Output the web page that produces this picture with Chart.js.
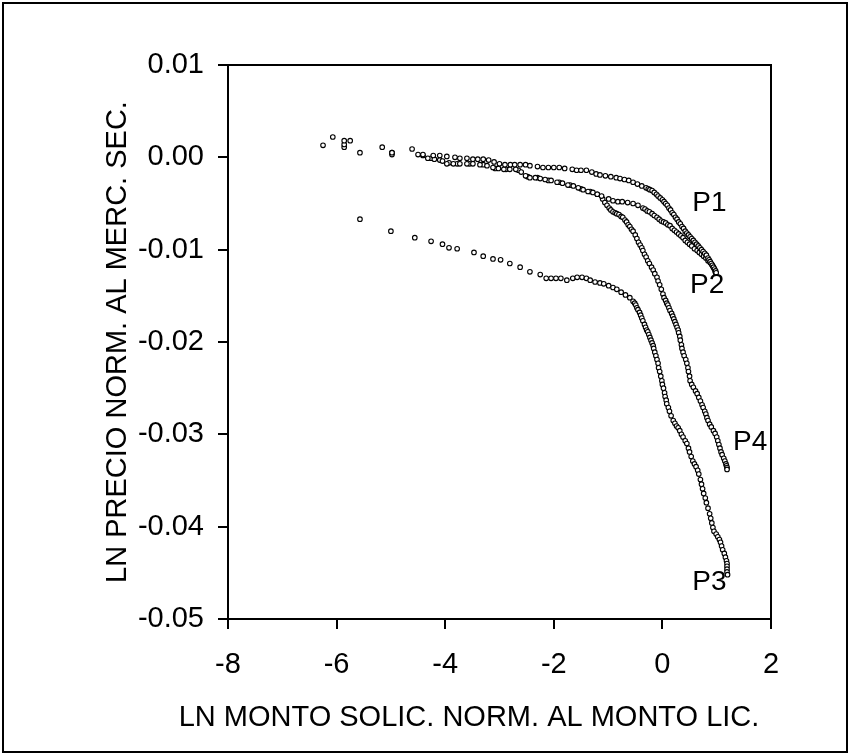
<!DOCTYPE html>
<html>
<head>
<meta charset="utf-8">
<script src="https://cdn.jsdelivr.net/npm/chart.js@4.4.1/dist/chart.umd.min.js"></script>
<style>
  html, body { margin: 0; padding: 0; background: #fff; }
  #wrap { position: relative; width: 850px; height: 755px; }
</style>
</head>
<body>
<div id="wrap"><canvas id="grafico" width="850" height="755"></canvas></div>
<script>
// --- data ---
const xTicks = [-8, -6, -4, -2, 0, 2];
const yTicks = [0.01, 0.00, -0.01, -0.02, -0.03, -0.04, -0.05];

const p1X = [-6.25, -6.07, -5.86, -5.75, -5.57, -5.16, -4.98, -4.61, -4.41, -4.22, -4.10, -3.97, -3.82, -3.73, -3.60, -3.49, -3.40, -3.30, -3.20, -3.10,
  -3.00, -2.90, -2.80, -2.72, -2.62, -2.52, -2.44, -2.30, -2.20, -2.10, -2.00, -1.90, -1.80, -1.66, -1.58, -1.50, -1.40, -1.30, -1.22, -1.15,
  -1.05, -0.95, -0.85, -0.78, -0.70, -0.62, -0.54, -0.46, -0.38, -0.30, -0.26, -0.23, -0.19, -0.15, -0.11, -0.08, -0.04, 0.00, 0.03, 0.06,
  0.09, 0.12, 0.15, 0.18, 0.21, 0.24, 0.27, 0.30, 0.33, 0.36, 0.39, 0.42, 0.45, 0.48, 0.51, 0.54, 0.57, 0.60, 0.63, 0.66,
  0.69, 0.72, 0.75, 0.78, 0.81, 0.84, 0.86, 0.88, 0.90, 0.92, 0.94, 0.96, 0.98, 0.99];
const p1Y = [0.0013, 0.0022, 0.0018, 0.0018, 0.0005, 0.0011, 0.0005, 0.0009, 0.0003, 0.0002, 0.0002, 0.0001, 0.0000, -0.0001, -0.0001, -0.0002, -0.0002, -0.0002, -0.0003, -0.0005,
  -0.0007, -0.0008, -0.0008, -0.0008, -0.0008, -0.0008, -0.0009, -0.0010, -0.0011, -0.0011, -0.0011, -0.0011, -0.0012, -0.0013, -0.0014, -0.0014, -0.0014, -0.0016, -0.0018, -0.0019,
  -0.0020, -0.0021, -0.0022, -0.0023, -0.0024, -0.0025, -0.0027, -0.0029, -0.0031, -0.0033, -0.0034, -0.0035, -0.0036, -0.0038, -0.0040, -0.0042, -0.0044, -0.0046, -0.0048, -0.0050,
  -0.0052, -0.0055, -0.0057, -0.0060, -0.0062, -0.0065, -0.0067, -0.0070, -0.0072, -0.0075, -0.0077, -0.0080, -0.0082, -0.0084, -0.0086, -0.0088, -0.0090, -0.0092, -0.0094, -0.0096,
  -0.0098, -0.0100, -0.0102, -0.0104, -0.0106, -0.0109, -0.0111, -0.0113, -0.0115, -0.0117, -0.0119, -0.0121, -0.0123, -0.0125];

const p2X = [-5.86, -4.98, -4.50, -4.32, -4.20, -4.05, -3.97, -3.85, -3.73, -3.60, -3.49, -3.36, -3.23, -3.12, -3.02, -2.92, -2.81, -2.70, -2.60, -2.52,
  -2.44, -2.34, -2.25, -2.16, -2.05, -1.94, -1.84, -1.74, -1.64, -1.55, -1.46, -1.37, -1.28, -1.20, -1.12, -0.99, -0.91, -0.82, -0.74, -0.64,
  -0.54, -0.45, -0.36, -0.32, -0.28, -0.24, -0.19, -0.15, -0.10, -0.06, -0.02, 0.02, 0.06, 0.10, 0.14, 0.18, 0.22, 0.26, 0.30, 0.34,
  0.38, 0.42, 0.46, 0.50, 0.54, 0.59, 0.64, 0.68, 0.72, 0.76, 0.80, 0.84, 0.88, 0.91, 0.93, 0.95, 0.97, 0.98];
const p2Y = [0.0014, 0.0003, 0.0003, -0.0001, -0.0002, -0.0004, -0.0007, -0.0007, -0.0007, -0.0007, -0.0007, -0.0008, -0.0009, -0.0011, -0.0012, -0.0013, -0.0013, -0.0013, -0.0016, -0.0020,
  -0.0022, -0.0022, -0.0023, -0.0024, -0.0025, -0.0027, -0.0028, -0.0030, -0.0031, -0.0033, -0.0035, -0.0037, -0.0038, -0.0040, -0.0042, -0.0045, -0.0047, -0.0048, -0.0048, -0.0049,
  -0.0050, -0.0052, -0.0055, -0.0056, -0.0058, -0.0059, -0.0061, -0.0063, -0.0065, -0.0067, -0.0069, -0.0070, -0.0071, -0.0073, -0.0074, -0.0077, -0.0079, -0.0081, -0.0083, -0.0085,
  -0.0087, -0.0090, -0.0092, -0.0094, -0.0096, -0.0099, -0.0101, -0.0103, -0.0105, -0.0107, -0.0109, -0.0112, -0.0114, -0.0116, -0.0118, -0.0120, -0.0123, -0.0125];

const p3X = [-5.57, -5.00, -4.56, -4.26, -4.05, -3.93, -3.78, -3.47, -3.30, -3.12, -2.98, -2.81, -2.62, -2.44, -2.25, -2.14, -2.05, -1.96, -1.87, -1.76,
  -1.65, -1.57, -1.48, -1.40, -1.33, -1.24, -1.15, -1.08, -0.99, -0.91, -0.84, -0.76, -0.68, -0.60, -0.54, -0.51, -0.49, -0.47, -0.45, -0.42,
  -0.40, -0.38, -0.36, -0.33, -0.31, -0.29, -0.27, -0.25, -0.23, -0.21, -0.19, -0.17, -0.16, -0.14, -0.12, -0.10, -0.08, -0.07, -0.05, -0.03,
  -0.01, 0.00, 0.02, 0.04, 0.05, 0.07, 0.08, 0.11, 0.13, 0.16, 0.20, 0.23, 0.26, 0.29, 0.32, 0.35, 0.38, 0.42, 0.45, 0.48,
  0.50, 0.53, 0.56, 0.59, 0.62, 0.65, 0.67, 0.70, 0.72, 0.74, 0.76, 0.79, 0.81, 0.84, 0.87, 0.89, 0.91, 0.93, 0.95, 0.99,
  1.02, 1.05, 1.07, 1.09, 1.11, 1.14, 1.16, 1.18, 1.19, 1.19, 1.19, 1.19, 1.20];
const p3Y = [-0.0067, -0.0080, -0.0087, -0.0091, -0.0094, -0.0098, -0.0099, -0.0103, -0.0107, -0.0110, -0.0111, -0.0115, -0.0119, -0.0124, -0.0127, -0.0131, -0.0131, -0.0131, -0.0131, -0.0133,
  -0.0131, -0.0130, -0.0130, -0.0131, -0.0133, -0.0135, -0.0136, -0.0137, -0.0139, -0.0141, -0.0143, -0.0146, -0.0149, -0.0152, -0.0156, -0.0158, -0.0160, -0.0163, -0.0165, -0.0168,
  -0.0171, -0.0174, -0.0177, -0.0181, -0.0184, -0.0187, -0.0189, -0.0192, -0.0195, -0.0198, -0.0201, -0.0204, -0.0207, -0.0211, -0.0215, -0.0219, -0.0223, -0.0228, -0.0232, -0.0237,
  -0.0242, -0.0246, -0.0250, -0.0255, -0.0259, -0.0263, -0.0267, -0.0271, -0.0275, -0.0280, -0.0285, -0.0288, -0.0291, -0.0293, -0.0296, -0.0300, -0.0303, -0.0307, -0.0310, -0.0315,
  -0.0319, -0.0324, -0.0329, -0.0332, -0.0335, -0.0339, -0.0343, -0.0349, -0.0354, -0.0359, -0.0364, -0.0369, -0.0374, -0.0380, -0.0386, -0.0391, -0.0396, -0.0401, -0.0405, -0.0408,
  -0.0411, -0.0414, -0.0417, -0.0421, -0.0425, -0.0429, -0.0433, -0.0437, -0.0440, -0.0443, -0.0446, -0.0449, -0.0452];

const p4X = [-5.86, -4.98, -4.41, -4.26, -4.10, -3.93, -3.78, -3.55, -3.30, -3.08, -2.88, -2.65, -2.48, -2.30, -2.10, -1.90, -1.70, -1.50, -1.33, -1.20,
  -1.10, -1.06, -1.02, -0.98, -0.95, -0.91, -0.87, -0.84, -0.80, -0.76, -0.73, -0.69, -0.66, -0.63, -0.60, -0.57, -0.54, -0.50, -0.47, -0.44,
  -0.41, -0.38, -0.36, -0.33, -0.30, -0.27, -0.24, -0.20, -0.17, -0.14, -0.10, -0.08, -0.05, -0.02, 0.01, 0.03, 0.06, 0.08, 0.10, 0.12,
  0.14, 0.17, 0.19, 0.21, 0.23, 0.25, 0.27, 0.29, 0.30, 0.32, 0.33, 0.35, 0.36, 0.38, 0.40, 0.43, 0.45, 0.47, 0.48, 0.50,
  0.51, 0.54, 0.57, 0.61, 0.64, 0.67, 0.70, 0.73, 0.75, 0.78, 0.80, 0.82, 0.84, 0.87, 0.90, 0.94, 0.97, 1.00, 1.02, 1.04,
  1.06, 1.08, 1.10, 1.13, 1.15, 1.17, 1.18, 1.19, 1.19];
const p4Y = [0.0011, 0.0005, 0.0002, -0.0001, -0.0003, -0.0006, -0.0007, -0.0007, -0.0008, -0.0012, -0.0013, -0.0014, -0.0021, -0.0022, -0.0025, -0.0027, -0.0030, -0.0034, -0.0037, -0.0040,
  -0.0045, -0.0049, -0.0052, -0.0055, -0.0057, -0.0059, -0.0060, -0.0061, -0.0062, -0.0064, -0.0065, -0.0068, -0.0070, -0.0073, -0.0075, -0.0078, -0.0080, -0.0084, -0.0088, -0.0092,
  -0.0095, -0.0098, -0.0101, -0.0105, -0.0108, -0.0112, -0.0115, -0.0119, -0.0122, -0.0126, -0.0130, -0.0134, -0.0138, -0.0143, -0.0148, -0.0152, -0.0155, -0.0158, -0.0160, -0.0163,
  -0.0166, -0.0169, -0.0172, -0.0175, -0.0178, -0.0181, -0.0184, -0.0187, -0.0190, -0.0194, -0.0198, -0.0203, -0.0207, -0.0211, -0.0215, -0.0219, -0.0223, -0.0228, -0.0232, -0.0237,
  -0.0242, -0.0246, -0.0249, -0.0253, -0.0256, -0.0260, -0.0264, -0.0268, -0.0271, -0.0275, -0.0278, -0.0282, -0.0285, -0.0289, -0.0292, -0.0296, -0.0299, -0.0303, -0.0307, -0.0311,
  -0.0315, -0.0319, -0.0322, -0.0326, -0.0329, -0.0332, -0.0334, -0.0336, -0.0338];

// series labels next to the curve ends (data coords: left edge, middle)
const serieNomes = ['P1', 'P2', 'P3', 'P4'];
const rotuloX = [0.55, 0.51, 0.55, 1.30];
const rotuloY = [-0.0050, -0.0139, -0.0460, -0.0309];

const tituloX = 'LN MONTO SOLIC. NORM. AL MONTO LIC.';
const tituloY = 'LN PRECIO NORM. AL MERC. SEC.';

const FONTE = '"Liberation Sans", Arial, sans-serif';

function pontos(xs, ys) {
    return xs.map((x, i) => ({ x: x, y: ys[i] }));
}

function serie(nome, xs, ys) {
    return {
        label: nome,
        data: pontos(xs, ys),
        showLine: false,
        pointStyle: 'circle',
        pointRadius: 2.3,
        pointBorderWidth: 1.1,
        pointBorderColor: '#000',
        pointBackgroundColor: '#fff'
    };
}

const molduraPlugin = {
    id: 'moldura',
    afterDraw(chart) {
        const ctx = chart.ctx;
        const area = chart.chartArea;
        const sx = chart.scales.x, sy = chart.scales.y;
        ctx.save();
        // outer frame
        ctx.strokeStyle = '#000';
        ctx.lineWidth = 2;
        ctx.strokeRect(3, 3, 844, 749);
        // plot box
        ctx.strokeRect(area.left, area.top, area.right - area.left, area.bottom - area.top);

        ctx.fillStyle = '#000';
        ctx.font = '28px ' + FONTE;
        // series labels
        ctx.textAlign = 'left';
        ctx.textBaseline = 'middle';
        serieNomes.forEach((n, i) => {
            ctx.fillText(n, sx.getPixelForValue(rotuloX[i]), sy.getPixelForValue(rotuloY[i]));
        });
        // axis titles
        ctx.font = '29px ' + FONTE;
        ctx.textAlign = 'center';
        ctx.fillText(tituloX, 469, 718);
        ctx.translate(118, (area.top + area.bottom) / 2);
        ctx.rotate(-Math.PI / 2);
        ctx.fillText(tituloY, 0, 0);
        ctx.restore();
    }
};

function fmtY(v) {
    const r = Math.round(v * 100) / 100;
    return (r === 0 ? 0 : r).toFixed(2);
}

new Chart(document.getElementById('grafico').getContext('2d'), {
    type: 'scatter',
    data: {
        datasets: [
            serie('P1', p1X, p1Y),
            serie('P2', p2X, p2Y),
            serie('P3', p3X, p3Y),
            serie('P4', p4X, p4Y)
        ]
    },
    options: {
        responsive: false,
        animation: false,
        devicePixelRatio: 1,
        layout: { padding: { left: 0, top: 65, right: 79, bottom: 0 } },
        plugins: { legend: { display: false }, tooltip: { enabled: false } },
        scales: {
            x: {
                type: 'linear', min: -8, max: 2,
                afterBuildTicks: (s) => { s.ticks = xTicks.map(v => ({ value: v })); },
                afterFit: (s) => { s.height = 136; },
                grid: { drawOnChartArea: false, drawTicks: true, tickLength: 10, color: '#000', lineWidth: 2 },
                border: { display: true, color: '#000', width: 2 },
                ticks: { color: '#000', padding: 19, maxRotation: 0, autoSkip: false,
                    font: { family: FONTE, size: 29 } }
            },
            y: {
                type: 'linear', min: -0.05, max: 0.01,
                afterBuildTicks: (s) => { s.ticks = yTicks.map(v => ({ value: v })); },
                afterFit: (s) => { s.width = 228; },
                grid: { drawOnChartArea: false, drawTicks: true, tickLength: 10, color: '#000', lineWidth: 2 },
                border: { display: true, color: '#000', width: 2 },
                ticks: { color: '#000', padding: 14, autoSkip: false,
                    font: { family: FONTE, size: 29 },
                    callback: (v) => fmtY(v) }
            }
        }
    },
    plugins: [molduraPlugin]
});
</script>
</body>
</html>
